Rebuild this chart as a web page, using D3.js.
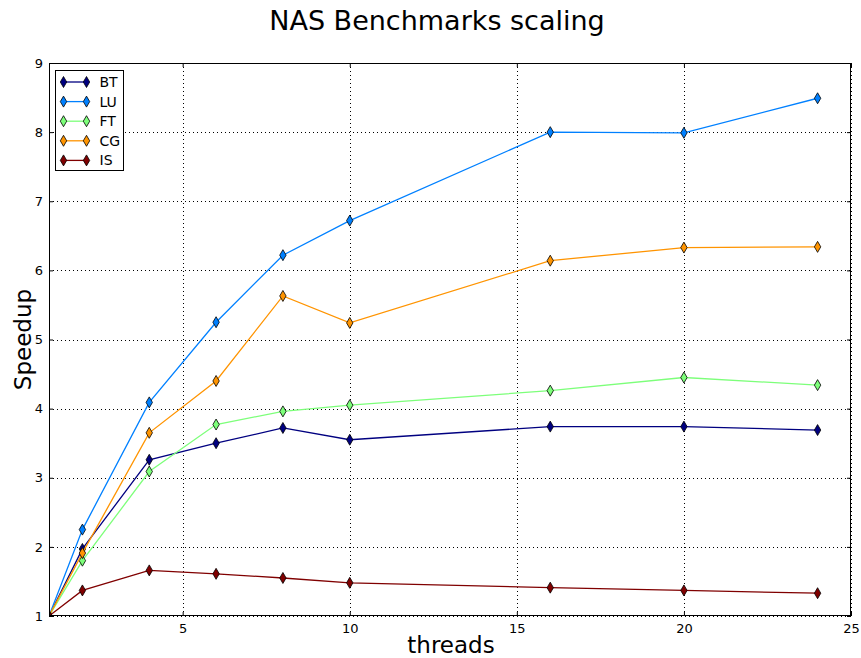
<!DOCTYPE html>
<html>
<head>
<meta charset="utf-8">
<script src="https://cdn.jsdelivr.net/npm/d3@7"></script>
<style>
  html, body { margin: 0; padding: 0; background: #fff; }
  svg { display: block; font-family: "DejaVu Sans", sans-serif; }
</style>
</head>
<body>
<svg id="chart" width="861" height="658"></svg>
<script>
// Thread counts used in every benchmark run
const threads = [1, 2, 4, 6, 8, 10, 16, 20, 24];

// Speedup per benchmark, one array per series
const bt = [1.00, 1.97, 3.26, 3.50, 3.72, 3.55, 3.74, 3.74, 3.69];
const lu = [1.00, 2.25, 4.09, 5.25, 6.22, 6.72, 8.00, 7.99, 8.49];
const ft = [1.00, 1.80, 3.09, 3.77, 3.96, 4.05, 4.26, 4.45, 4.34];
const cg = [1.00, 1.91, 3.65, 4.40, 5.63, 5.24, 6.14, 6.33, 6.34];
const is = [1.00, 1.37, 1.66, 1.61, 1.55, 1.48, 1.41, 1.37, 1.33];

const seriesNames = ["BT", "LU", "FT", "CG", "IS"];
const seriesColors = ["#000080", "#0080ff", "#7dff7a", "#ff9400", "#800000"];
const seriesValues = [bt, lu, ft, cg, is];

const xTicks = [5, 10, 15, 20, 25];
const yTicks = [1, 2, 3, 4, 5, 6, 7, 8, 9];

const svg = d3.select("#chart");
const margin = { left: 49, right: 10, top: 63, bottom: 42 };
const W = 861, H = 658;
const plotW = W - margin.left - margin.right;
const plotH = H - margin.top - margin.bottom;

const x = d3.scaleLinear().domain([1, 25]).range([margin.left, margin.left + plotW]);
const y = d3.scaleLinear().domain([1, 9]).range([margin.top + plotH, margin.top]);

svg.append("defs").append("clipPath").attr("id", "plot-clip")
  .append("rect")
  .attr("x", margin.left).attr("y", margin.top)
  .attr("width", plotW).attr("height", plotH);

// Dotted grid
const grid = svg.append("g").attr("class", "grid");
grid.selectAll("line.gx").data(xTicks).join("line")
  .attr("x1", d => Math.round(x(d)) + 0.5).attr("x2", d => Math.round(x(d)) + 0.5)
  .attr("y1", margin.top).attr("y2", margin.top + plotH)
  .attr("stroke", "#000").attr("stroke-width", 1).attr("stroke-dasharray", "1,3");
grid.selectAll("line.gy").data(yTicks).join("line")
  .attr("y1", d => Math.round(y(d)) + 0.5).attr("y2", d => Math.round(y(d)) + 0.5)
  .attr("x1", margin.left).attr("x2", margin.left + plotW)
  .attr("stroke", "#000").attr("stroke-width", 1).attr("stroke-dasharray", "1,3");

// Axes with inward ticks on all four sides
const tickLen = 4;
const bottomAxis = d3.axisBottom(x).tickValues(xTicks).tickSize(-tickLen).tickPadding(8).tickFormat(d3.format("d"));
const topAxis = d3.axisTop(x).tickValues(xTicks).tickSize(-tickLen).tickFormat("");
const leftAxis = d3.axisLeft(y).tickValues(yTicks).tickSize(-tickLen).tickPadding(6).tickFormat(d3.format("d"));
const rightAxis = d3.axisRight(y).tickValues(yTicks).tickSize(-tickLen).tickFormat("");

function styleAxis(g) {
  g.select(".domain").remove();
  g.selectAll(".tick line").attr("stroke", "#000").attr("stroke-width", 1);
  g.selectAll(".tick text").attr("fill", "#000").attr("font-size", 13)
    .attr("font-family", "DejaVu Sans, sans-serif");
}
svg.append("g").attr("transform", `translate(0,${margin.top + plotH})`).call(bottomAxis).call(styleAxis);
svg.append("g").attr("transform", `translate(0,${margin.top})`).call(topAxis).call(styleAxis);
svg.append("g").attr("transform", `translate(${margin.left},0)`).call(leftAxis).call(styleAxis);
svg.append("g").attr("transform", `translate(${margin.left + plotW},0)`).call(rightAxis).call(styleAxis);

// Series lines and thin-diamond markers
const line = d3.line().x((d, i) => x(threads[i])).y(d => y(d));
const diamond = "M0,-5.5L3.2,0L0,5.5L-3.2,0Z";
const plotG = svg.append("g").attr("clip-path", "url(#plot-clip)");

seriesValues.forEach((vals, si) => {
  const g = plotG.append("g");
  g.append("path").datum(vals)
    .attr("d", line)
    .attr("fill", "none")
    .attr("stroke", seriesColors[si])
    .attr("stroke-width", 1.3);
  g.selectAll("path.mk").data(vals).join("path")
    .attr("class", "mk")
    .attr("d", diamond)
    .attr("transform", (d, i) => `translate(${x(threads[i])},${y(d)})`)
    .attr("fill", seriesColors[si])
    .attr("stroke", "#000")
    .attr("stroke-width", 0.8);
});

// Plot frame
svg.append("rect")
  .attr("x", margin.left + 0.5).attr("y", margin.top + 0.5)
  .attr("width", plotW - 1).attr("height", plotH - 1)
  .attr("fill", "none").attr("stroke", "#000").attr("stroke-width", 1);

// Legend
const legend = svg.append("g").attr("transform", "translate(55.5,70.5)");
legend.append("rect").attr("width", 68).attr("height", 100)
  .attr("fill", "#fff").attr("stroke", "#000").attr("stroke-width", 1);
seriesNames.forEach((name, i) => {
  const ly = 11.5 + i * 19.6;
  legend.append("line").attr("x1", 8).attr("x2", 31).attr("y1", ly).attr("y2", ly)
    .attr("stroke", seriesColors[i]).attr("stroke-width", 1.3);
  [8, 31].forEach(lx => {
    legend.append("path").attr("d", diamond)
      .attr("transform", `translate(${lx},${ly})`)
      .attr("fill", seriesColors[i]).attr("stroke", "#000").attr("stroke-width", 0.8);
  });
  legend.append("text").attr("x", 44).attr("y", ly).attr("dy", "0.36em")
    .attr("font-size", 14).attr("fill", "#000").text(name);
});

// Titles
svg.append("text").attr("x", 437).attr("y", 30).attr("text-anchor", "middle")
  .attr("font-size", 27).attr("fill", "#000").text("NAS Benchmarks scaling");
svg.append("text").attr("x", 451).attr("y", 653).attr("text-anchor", "middle")
  .attr("font-size", 23).attr("fill", "#000").text("threads");
svg.append("text").attr("transform", `translate(31,${margin.top + plotH / 2}) rotate(-90)`)
  .attr("text-anchor", "middle").attr("font-size", 23).attr("fill", "#000").text("Speedup");
</script>
</body>
</html>
